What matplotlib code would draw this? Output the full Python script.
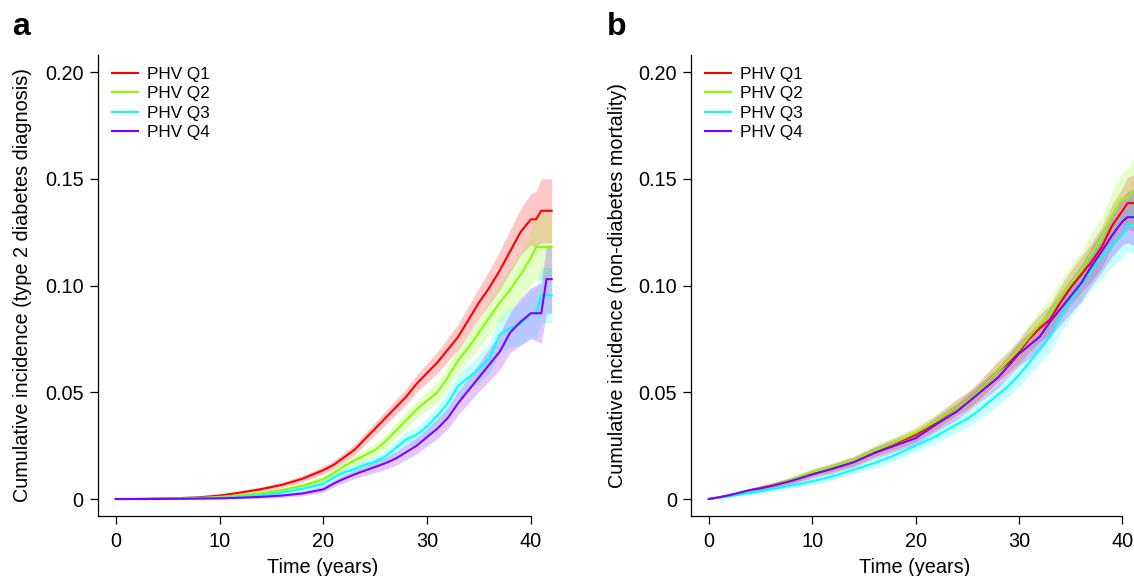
import matplotlib
matplotlib.use('Agg')
import matplotlib.pyplot as plt

plt.rcParams['font.family'] = ['Liberation Sans', 'DejaVu Sans']

# ---------------- data ----------------
series_labels = ['PHV Q1', 'PHV Q2', 'PHV Q3', 'PHV Q4']
series_colors = ['#FF0000', '#80FF00', '#00FFFF', '#8000FF']

x_ticks = [0, 10, 20, 30, 40]
y_ticks = [0, 0.05, 0.10, 0.15, 0.20]
y_tick_labels = ['0', '0.05', '0.10', '0.15', '0.20']

panel_letters = ['a', 'b']
y_titles = ['Cumulative incidence (type 2 diabetes diagnosis)',
            'Cumulative incidence (non-diabetes mortality)']
x_title = 'Time (years)'

# Panel a: type 2 diabetes diagnosis
time_a = [0, 2, 4, 6, 8, 10, 12, 14, 16, 18, 20, 21, 22, 23, 24, 25, 26, 27, 28, 29,
          30, 31, 32, 33, 34, 35, 36, 37, 38, 39, 40, 40.5, 41, 41.5, 42]
q1_a = [0, 0, 0.0002, 0.0004, 0.0008, 0.0016, 0.003, 0.0046, 0.0066, 0.0095, 0.0135, 0.016,
        0.0195, 0.023, 0.028, 0.033, 0.038, 0.043, 0.048, 0.054,
        0.059, 0.064, 0.070, 0.076, 0.084, 0.092, 0.099, 0.107, 0.116, 0.125,
        0.131, 0.131, 0.135, 0.135, 0.135]
q2_a = [0, 0, 0.0001, 0.0003, 0.0005, 0.001, 0.0017, 0.0026, 0.0042, 0.0062, 0.0092, 0.0122,
        0.0155, 0.018, 0.0205, 0.023, 0.027, 0.032, 0.037, 0.042,
        0.046, 0.050, 0.057, 0.065, 0.071, 0.078, 0.085, 0.092, 0.098, 0.105,
        0.113, 0.118, 0.118, 0.118, 0.118]
q3_a = [0, 0, 0, 0.0001, 0.0003, 0.0005, 0.001, 0.0017, 0.003, 0.0048, 0.0070, 0.0100,
        0.0125, 0.014, 0.016, 0.0175, 0.020, 0.024, 0.028, 0.030,
        0.034, 0.039, 0.045, 0.053, 0.057, 0.061, 0.066, 0.077, 0.080, 0.082,
        0.087, 0.087, 0.0955, 0.0955, 0.0955]
q4_a = [0, 0, 0, 0.0001, 0.0002, 0.0003, 0.0006, 0.001, 0.0016, 0.0026, 0.0045, 0.0072,
        0.0095, 0.0115, 0.0133, 0.015, 0.0168, 0.019, 0.022, 0.025,
        0.029, 0.033, 0.038, 0.045, 0.051, 0.057, 0.063, 0.069, 0.078, 0.083,
        0.087, 0.087, 0.087, 0.103, 0.103]
hw_q1_a = [0, 0, 0.0002, 0.0003, 0.0004, 0.0006, 0.0008, 0.001, 0.0012, 0.0015, 0.0018,
           0.002, 0.0022, 0.0025, 0.0028, 0.003, 0.0032, 0.0035, 0.0038, 0.004,
           0.0045, 0.005, 0.0055, 0.006, 0.0065, 0.007, 0.008, 0.009, 0.010, 0.011,
           0.012, 0.013, 0.015, 0.015, 0.015]
hw_q2_a = [0, 0, 0.0001, 0.0002, 0.0003, 0.0005, 0.0007, 0.0009, 0.0011, 0.0014, 0.0017,
           0.0019, 0.0021, 0.0024, 0.0027, 0.003, 0.0032, 0.0035, 0.0038, 0.004,
           0.0045, 0.005, 0.0055, 0.006, 0.0065, 0.007, 0.008, 0.009, 0.010, 0.011,
           0.013, 0.015, 0.015, 0.015, 0.015]
hw_q3_a = [0, 0, 0, 0.0001, 0.0002, 0.0004, 0.0006, 0.0008, 0.001, 0.0012, 0.0015,
           0.0017, 0.0019, 0.0021, 0.0024, 0.0027, 0.003, 0.0033, 0.0036, 0.0038,
           0.0042, 0.0046, 0.005, 0.0055, 0.006, 0.0065, 0.007, 0.008, 0.009, 0.010,
           0.011, 0.012, 0.013, 0.013, 0.013]
hw_q4_a = [0, 0, 0, 0.0001, 0.0002, 0.0003, 0.0005, 0.0007, 0.0009, 0.0011, 0.0014,
           0.0016, 0.0018, 0.002, 0.0023, 0.0026, 0.0029, 0.0032, 0.0035, 0.0038,
           0.0042, 0.0046, 0.005, 0.0055, 0.006, 0.0066, 0.0075, 0.0085, 0.0095, 0.011,
           0.012, 0.013, 0.014, 0.016, 0.016]

# Panel b: non-diabetes mortality
time_b = [0, 1, 2, 3, 4, 5, 6, 8, 10, 12, 14, 16, 18, 20, 22, 24, 25, 26, 27, 28, 29,
          30, 31, 32, 33, 34, 35, 36, 37, 38, 39, 40, 40.5, 41, 42]
q1_b = [0, 0.0008, 0.0018, 0.0029, 0.004, 0.0052, 0.0063, 0.0088, 0.0122, 0.0148, 0.0178,
        0.0222, 0.026, 0.030, 0.036, 0.043, 0.046, 0.050, 0.055, 0.060, 0.064,
        0.069, 0.075, 0.080, 0.084, 0.092, 0.099, 0.105, 0.111, 0.118, 0.128,
        0.135, 0.1386, 0.1386, 0.1386]
q2_b = [0, 0.0008, 0.0017, 0.0028, 0.0039, 0.005, 0.0062, 0.009, 0.0125, 0.015, 0.018,
        0.0225, 0.0265, 0.031, 0.0365, 0.043, 0.046, 0.050, 0.055, 0.060, 0.065,
        0.070, 0.076, 0.082, 0.087, 0.095, 0.101, 0.107, 0.115, 0.122, 0.133,
        0.141, 0.141, 0.144, 0.144]
q3_b = [0, 0.0006, 0.0013, 0.0021, 0.0028, 0.0036, 0.0045, 0.0063, 0.0083, 0.0107, 0.0137,
        0.0168, 0.0205, 0.025, 0.0295, 0.035, 0.0375, 0.041, 0.045, 0.049, 0.053,
        0.058, 0.064, 0.070, 0.076, 0.085, 0.093, 0.100, 0.107, 0.113, 0.119,
        0.124, 0.128, 0.128, 0.128]
q4_b = [0, 0.0008, 0.0018, 0.003, 0.0042, 0.005, 0.006, 0.0085, 0.0115, 0.0142, 0.0172,
        0.0215, 0.025, 0.0285, 0.035, 0.041, 0.045, 0.049, 0.053, 0.057, 0.0625,
        0.068, 0.072, 0.076, 0.083, 0.089, 0.095, 0.101, 0.109, 0.116, 0.1235,
        0.130, 0.132, 0.132, 0.132]
hw_q1_b = [0, 0.0003, 0.0005, 0.0007, 0.0009, 0.001, 0.0012, 0.0015, 0.0018, 0.002, 0.0022,
           0.0025, 0.0028, 0.003, 0.0033, 0.0037, 0.004, 0.0042, 0.0045, 0.0048, 0.005,
           0.0055, 0.006, 0.0065, 0.007, 0.0075, 0.008, 0.0085, 0.009, 0.0095, 0.010,
           0.011, 0.012, 0.013, 0.014]
hw_q2_b = [0, 0.0003, 0.0005, 0.0007, 0.0009, 0.001, 0.0012, 0.0015, 0.0018, 0.002, 0.0022,
           0.0025, 0.0028, 0.003, 0.0033, 0.0037, 0.004, 0.0042, 0.0045, 0.0048, 0.005,
           0.0055, 0.006, 0.0065, 0.007, 0.0075, 0.008, 0.0085, 0.0095, 0.010, 0.011,
           0.012, 0.013, 0.015, 0.016]
hw_q3_b = [0, 0.0003, 0.0005, 0.0006, 0.0008, 0.0009, 0.0011, 0.0014, 0.0017, 0.0019, 0.0021,
           0.0024, 0.0027, 0.003, 0.0033, 0.0037, 0.004, 0.0042, 0.0045, 0.0048, 0.005,
           0.0055, 0.006, 0.0065, 0.007, 0.0075, 0.008, 0.0085, 0.009, 0.0095, 0.010,
           0.011, 0.012, 0.013, 0.014]
hw_q4_b = [0, 0.0003, 0.0005, 0.0007, 0.0009, 0.001, 0.0012, 0.0015, 0.0018, 0.002, 0.0022,
           0.0025, 0.0028, 0.003, 0.0033, 0.0037, 0.004, 0.0042, 0.0045, 0.0048, 0.005,
           0.0055, 0.006, 0.0065, 0.007, 0.0075, 0.008, 0.0085, 0.009, 0.0095, 0.010,
           0.011, 0.012, 0.013, 0.014]

panel_data = [
    (time_a, [q1_a, q2_a, q3_a, q4_a], [hw_q1_a, hw_q2_a, hw_q3_a, hw_q4_a]),
    (time_b, [q1_b, q2_b, q3_b, q4_b], [hw_q1_b, hw_q2_b, hw_q3_b, hw_q4_b]),
]

# ---------------- layout (pixels) ----------------
W, H = 1134, 576
fig = plt.figure(figsize=(W / 100, H / 100), dpi=100)

XLIM = (-1.7, 43.7)
YLIM = (-0.008, 0.208)
Y0_PX, PX_PER_UNIT = 499.0, 2135.0
zero_px = [115.7, 708.8]
px_per_year = [10.38, 10.34]
ylabel_x = [22.5, 617.0]
xlabel_x = [322.6, 915.0]
letter_x = [12, 607]

FS = 14.3

for i in range(2):
    left = zero_px[i] + XLIM[0] * px_per_year[i]
    right = zero_px[i] + XLIM[1] * px_per_year[i]
    top = Y0_PX - YLIM[1] * PX_PER_UNIT
    bottom = Y0_PX - YLIM[0] * PX_PER_UNIT
    ax = fig.add_axes([left / W, (H - bottom) / H, (right - left) / W, (bottom - top) / H])
    ax.set_xlim(*XLIM)
    ax.set_ylim(*YLIM)

    t, vals, hws = panel_data[i]
    for v, hw, c in zip(vals, hws, series_colors):
        lo = [a - b for a, b in zip(v, hw)]
        hi = [a + b for a, b in zip(v, hw)]
        ax.fill_between(t, lo, hi, color=c, alpha=0.22, linewidth=0)
    handles = []
    for v, c, lab in zip(vals, series_colors, series_labels):
        h, = ax.plot(t, v, color=c, lw=1.5, label=lab)
        handles.append(h)

    for s in ['top', 'right']:
        ax.spines[s].set_visible(False)
    ax.spines['bottom'].set_bounds(XLIM[0], 40)
    ax.spines['left'].set_linewidth(0.9)
    ax.spines['bottom'].set_linewidth(0.9)

    ax.set_xticks(x_ticks)
    ax.set_xticklabels([str(x) for x in x_ticks])
    ax.set_yticks(y_ticks)
    ax.set_yticklabels(y_tick_labels)
    ax.tick_params(axis='both', direction='out', length=5.8, width=0.9,
                   labelsize=FS, colors='black')
    ax.tick_params(axis='x', pad=5.5)
    ax.tick_params(axis='y', pad=4.5)

    # legend
    ax_w = right - left
    ax_h = bottom - top
    leg_left_px = zero_px[i] - 3.7
    leg_top_px = 67
    ax.legend(handles=handles, loc='upper left',
              bbox_to_anchor=((leg_left_px - left) / ax_w, (bottom - leg_top_px) / ax_h),
              frameon=False, fontsize=12.3, handlelength=1.52, handletextpad=0.52,
              labelspacing=0.26, borderpad=0, borderaxespad=0)

    fig.text(ylabel_x[i] / W, 1 - (top + bottom) / 2 / H, y_titles[i], rotation=90,
             ha='center', va='center', fontsize=FS)
    fig.text(xlabel_x[i] / W, 1 - 573 / H, x_title, ha='center', va='baseline', fontsize=FS)
    fig.text(letter_x[i] / W, 1 - 35 / H, panel_letters[i], ha='left', va='baseline',
             fontsize=23, fontweight='bold')

fig.savefig('out.png', dpi=100)
